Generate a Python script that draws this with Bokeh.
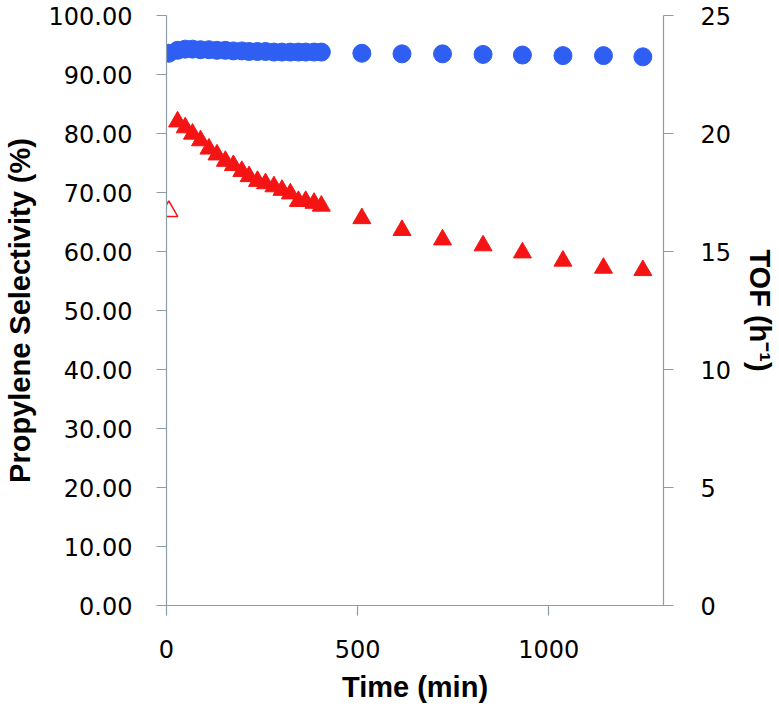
from bokeh.plotting import figure
from bokeh.models import Range1d, LinearAxis, FixedTicker, PrintfTickFormatter, ColumnDataSource
from bokeh.embed import file_html
from bokeh.resources import INLINE

# ---- data ----
time_min = [6, 29, 49, 68, 89, 111, 132, 154, 175, 197, 216, 238, 259, 281, 302, 324, 345, 364, 386, 405,
            511, 616, 722, 828, 931, 1037, 1143, 1246]
selectivity = [93.6, 94.1, 94.3, 94.3, 94.2, 94.2, 94.1, 94.1, 94.0, 94.0, 93.9, 93.9, 93.9, 93.8, 93.8, 93.8,
               93.8, 93.8, 93.8, 93.8, 93.6, 93.5, 93.5, 93.4, 93.3, 93.2, 93.2, 93.0]
tof_time = [29, 49, 68, 89, 111, 132, 154, 175, 197, 216, 238, 259, 281, 302, 324, 345, 364, 386, 405,
            511, 616, 722, 828, 931, 1037, 1143, 1246]
tof = [20.5, 20.25, 19.98, 19.7, 19.35, 19.1, 18.83, 18.65, 18.4, 18.18, 17.98, 17.88, 17.75, 17.6, 17.45,
       17.13, 17.13, 17.05, 16.93, 16.4, 15.9, 15.5, 15.25, 14.95, 14.6, 14.3, 14.2]
tof_open_time = [6]
tof_open = [16.7]

x_ticks = [0, 500, 1000]
y_ticks = [0, 10, 20, 30, 40, 50, 60, 70, 80, 90, 100]
y2_ticks = [0, 5, 10, 15, 20, 25]

BLUE = "#2F5EF2"
RED = "#F51414"
AXIS = "#8C9DAA"
TICK_FONT = "DejaVu Sans"
TITLE_FONT = "Liberation Sans"

p = figure(width=779, height=715, output_backend="svg", toolbar_location=None,
           x_range=Range1d(0, 1300), y_range=Range1d(0, 100),
           min_border_left=162, min_border_right=113, min_border_top=15, min_border_bottom=110)
p.extra_y_ranges = {"tof": Range1d(0, 25)}
p.outline_line_color = None
p.xgrid.visible = False
p.ygrid.visible = False
p.background_fill_color = "white"
p.border_fill_color = "white"

# x axis
xa = p.xaxis[0]
xa.ticker = FixedTicker(ticks=x_ticks)
xa.axis_label = "Time (min)"

# left axis
ya = p.yaxis[0]
ya.ticker = FixedTicker(ticks=y_ticks)
ya.formatter = PrintfTickFormatter(format="%.2f")
ya.axis_label = "Propylene Selectivity (%)"

# right axis
ra = LinearAxis(y_range_name="tof", ticker=FixedTicker(ticks=y2_ticks), axis_label="TOF (h⁻¹)")
p.add_layout(ra, "right")

for ax in (xa, ya, ra):
    ax.axis_line_color = AXIS
    ax.axis_line_width = 1.2
    ax.major_tick_line_color = AXIS
    ax.major_tick_line_width = 1.2
    ax.major_tick_in = 0
    ax.major_tick_out = 10
    ax.minor_tick_line_color = None
    ax.major_label_text_font = TICK_FONT
    ax.major_label_text_font_size = "24px"
    ax.major_label_text_color = "black"
    ax.axis_label_text_font = TITLE_FONT
    ax.axis_label_text_font_style = "bold"
    ax.axis_label_text_font_size = "29px"
    ax.axis_label_text_color = "black"

xa.major_label_standoff = 24
xa.axis_label_standoff = 10
ya.major_label_standoff = 24
ya.axis_label_standoff = 10
ra.major_label_standoff = 27
ra.axis_label_standoff = 10

src_sel = ColumnDataSource(dict(t=time_min, s=selectivity))
src_tof = ColumnDataSource(dict(t=tof_time, v=tof))
src_open = ColumnDataSource(dict(t=tof_open_time, v=tof_open))

p.scatter("t", "s", source=src_sel, marker="circle", size=18, fill_color=BLUE, line_color=BLUE)
p.scatter("t", "v", source=src_tof, y_range_name="tof", marker="triangle", size=18,
          fill_color=RED, line_color=RED)
p.scatter("t", "v", source=src_open, y_range_name="tof", marker="triangle", size=18,
          fill_color="white", line_color=RED, line_width=1.5)

open("out.html", "w").write(file_html(p, INLINE))
